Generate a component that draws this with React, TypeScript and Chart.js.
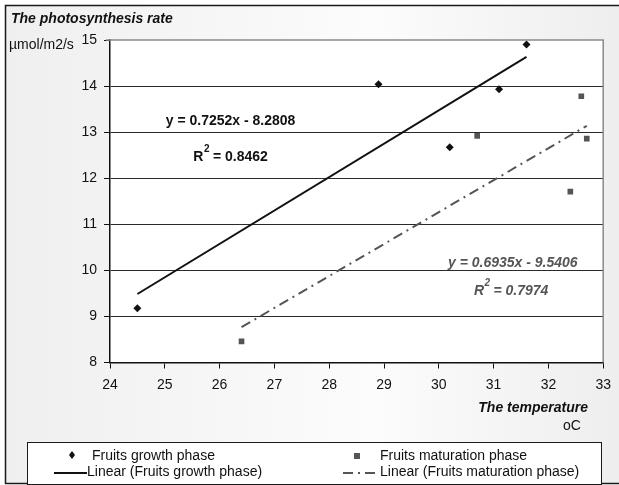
import React, { useEffect, useRef } from 'react';
import { Chart, registerables } from 'chart.js';

Chart.register(...registerables);

// ---- data ----
const growthTemp = [24.5, 28.9, 30.2, 31.1, 31.6];
const growthRate = [9.18, 14.04, 12.67, 13.93, 14.9];
const maturationTemp = [26.4, 30.7, 32.4, 32.6, 32.7];
const maturationRate = [8.46, 12.92, 11.71, 13.78, 12.86];

const growthSlope = 0.7252;
const growthIntercept = -8.2808;
const growthR2 = '0.8462';
const maturationSlope = 0.6935;
const maturationIntercept = -9.5406;
const maturationR2 = '0.7974';

const xMin = 24;
const xMax = 33;
const yMin = 8;
const yMax = 15;

const seriesNames = ['Fruits growth phase', 'Fruits maturation phase'];
const yTitle = 'The photosynthesis rate';
const yUnit = 'µmol/m2/s';
const xTitle = 'The temperature';
const xUnit = 'oC';

// annotation anchors (data coords)
const eq1At = { x: 26.2, y: 13.24 };
const r21At = { x: 26.2, y: 12.45 };
const eq2At = { x: 31.35, y: 10.15 };
const r22At = { x: 31.32, y: 9.55 };

const F = '"Liberation Sans", Arial, sans-serif';
const GRAY = '#555555';

function trend(xs: number[], m: number, b: number) {
  const lo = Math.min(...xs);
  const hi = Math.max(...xs);
  return [lo, hi].map((x) => ({ x, y: m * x + b }));
}

function eqText(m: number, b: number) {
  return `y = ${m.toFixed(4)}x ${b < 0 ? '-' : '+'} ${Math.abs(b).toFixed(4)}`;
}

function drawR2(ctx: CanvasRenderingContext2D, cx: number, cy: number, val: string, font: string, supFont: string, color: string) {
  ctx.font = font;
  const wR = ctx.measureText('R').width;
  const rest = ' = ' + val;
  const wRest = ctx.measureText(rest).width;
  ctx.font = supFont;
  const w2 = ctx.measureText('2').width;
  const total = wR + w2 + wRest;
  let x = cx - total / 2;
  ctx.fillStyle = color;
  ctx.textAlign = 'left';
  ctx.textBaseline = 'middle';
  ctx.font = font;
  ctx.fillText('R', x, cy);
  x += wR;
  ctx.font = supFont;
  ctx.fillText('2', x + 0.5, cy - 8);
  x += w2;
  ctx.font = font;
  ctx.fillText(rest, x, cy);
}

const deco = {
  id: 'deco',
  beforeDraw(chart: any) {
    const { ctx, chartArea: a, width, height } = chart;
    ctx.save();
    ctx.fillStyle = '#ffffff';
    ctx.fillRect(0, 0, width, height);
    const g = ctx.createLinearGradient(5, 0, width, 0);
    g.addColorStop(0, '#efefef');
    g.addColorStop(0.6, '#fcfcfc');
    g.addColorStop(1, '#eeeeee');
    ctx.fillStyle = g;
    ctx.fillRect(5, 5, width - 5, height - 7);
    ctx.fillStyle = '#ffffff';
    ctx.fillRect(a.left, a.top, a.right - a.left, a.bottom - a.top);
    ctx.restore();
  },
  afterDraw(chart: any) {
    const { ctx, chartArea: a, width, scales } = chart;
    const sx = scales.x;
    const sy = scales.y;
    ctx.save();
    // plot top/right border
    ctx.strokeStyle = '#8a8a8a';
    ctx.lineWidth = 1.5;
    ctx.beginPath();
    ctx.moveTo(a.left - 4, a.top);
    ctx.lineTo(a.right, a.top);
    ctx.lineTo(a.right, a.bottom);
    ctx.stroke();
    // outer border
    ctx.strokeStyle = '#1a1a1a';
    ctx.lineWidth = 1.5;
    ctx.beginPath();
    ctx.moveTo(width, 5.5);
    ctx.lineTo(5.5, 5.5);
    ctx.lineTo(5.5, 483.5);
    ctx.lineTo(width, 483.5);
    ctx.stroke();

    // titles
    ctx.fillStyle = '#111';
    ctx.textBaseline = 'middle';
    ctx.textAlign = 'left';
    ctx.font = `italic bold 14px ${F}`;
    ctx.fillText(yTitle, 11, 19);
    ctx.font = `14px ${F}`;
    ctx.fillText(yUnit, 9, 45);
    ctx.textAlign = 'right';
    ctx.font = `italic bold 14px ${F}`;
    ctx.fillText(xTitle, 588, 408);
    ctx.textAlign = 'center';
    ctx.font = `14px ${F}`;
    ctx.fillText(xUnit, 572, 426);

    // equations
    ctx.font = `bold 14px ${F}`;
    ctx.fillStyle = '#111';
    ctx.textAlign = 'center';
    ctx.fillText(eqText(growthSlope, growthIntercept), sx.getPixelForValue(eq1At.x), sy.getPixelForValue(eq1At.y));
    drawR2(ctx, sx.getPixelForValue(r21At.x), sy.getPixelForValue(r21At.y), growthR2, `bold 14px ${F}`, `bold 10px ${F}`, '#111');
    ctx.font = `italic bold 14px ${F}`;
    ctx.fillStyle = GRAY;
    ctx.textAlign = 'center';
    ctx.fillText(eqText(maturationSlope, maturationIntercept), sx.getPixelForValue(eq2At.x), sy.getPixelForValue(eq2At.y));
    drawR2(ctx, sx.getPixelForValue(r22At.x), sy.getPixelForValue(r22At.y), maturationR2, `italic bold 14px ${F}`, `italic bold 10px ${F}`, GRAY);

    // legend box
    ctx.fillStyle = '#ffffff';
    ctx.fillRect(27, 442, 574, 42);
    ctx.strokeStyle = '#1a1a1a';
    ctx.lineWidth = 1;
    ctx.strokeRect(27.5, 442.5, 574, 42);
    ctx.font = `14px ${F}`;
    ctx.textAlign = 'left';
    ctx.textBaseline = 'middle';
    ctx.fillStyle = '#111';
    // diamond
    ctx.beginPath();
    ctx.moveTo(72, 451);
    ctx.lineTo(75, 455);
    ctx.lineTo(72, 459);
    ctx.lineTo(69, 455);
    ctx.closePath();
    ctx.fill();
    ctx.fillText(seriesNames[0], 92, 456);
    ctx.strokeStyle = '#111';
    ctx.lineWidth = 2;
    ctx.beginPath();
    ctx.moveTo(54, 473);
    ctx.lineTo(87, 473);
    ctx.stroke();
    ctx.fillText(`Linear (${seriesNames[0]})`, 87, 472);
    // square
    ctx.fillStyle = GRAY;
    ctx.fillRect(354, 453, 6, 6);
    ctx.fillStyle = '#111';
    ctx.fillText(seriesNames[1], 380, 456);
    ctx.strokeStyle = GRAY;
    ctx.setLineDash([10, 5, 2, 5]);
    ctx.beginPath();
    ctx.moveTo(343, 473);
    ctx.lineTo(380, 473);
    ctx.stroke();
    ctx.setLineDash([]);
    ctx.fillText(`Linear (${seriesNames[1]})`, 380, 472);
    ctx.restore();
  },
};

export default function App() {
  const ref = useRef<HTMLCanvasElement>(null);
  useEffect(() => {
    document.body.style.margin = '0';
    const canvas = ref.current!;
    const chart = new Chart(canvas, {
      type: 'scatter',
      data: {
        datasets: [
          {
            label: seriesNames[0],
            data: growthTemp.map((x, i) => ({ x, y: growthRate[i] })),
            pointStyle: 'rectRot',
            pointRadius: 4,
            backgroundColor: '#111',
            borderColor: '#111',
            borderWidth: 0,
            order: 1,
          },
          {
            label: seriesNames[1],
            data: maturationTemp.map((x, i) => ({ x, y: maturationRate[i] })),
            pointStyle: 'rect',
            pointRadius: 4,
            backgroundColor: GRAY,
            borderColor: GRAY,
            borderWidth: 0,
            order: 1,
          },
          {
            label: `Linear (${seriesNames[0]})`,
            data: trend(growthTemp, growthSlope, growthIntercept),
            showLine: true,
            pointRadius: 0,
            borderColor: '#111',
            borderWidth: 2,
            order: 2,
          },
          {
            label: `Linear (${seriesNames[1]})`,
            data: trend(maturationTemp, maturationSlope, maturationIntercept),
            showLine: true,
            pointRadius: 0,
            borderColor: GRAY,
            borderWidth: 2,
            borderDash: [10, 5, 2, 5],
            order: 2,
          },
        ],
      },
      options: {
        responsive: false,
        animation: false,
        devicePixelRatio: 1,
        layout: { padding: { left: 0, top: 40, right: 8, bottom: 0 } },
        plugins: { legend: { display: false }, title: { display: false }, tooltip: { enabled: false } },
        scales: {
          x: {
            type: 'linear',
            min: xMin,
            max: xMax,
            afterFit: (s: any) => { s.height = 122.5; },
            ticks: { stepSize: 1, color: '#111', font: { family: F, size: 14 }, padding: 8, maxRotation: 0 },
            grid: { drawOnChartArea: false, drawTicks: true, tickLength: 6, tickColor: '#111' },
            border: { display: true, color: '#111', width: 1.5 },
          },
          y: {
            type: 'linear',
            min: yMin,
            max: yMax,
            afterFit: (s: any) => { s.width = 110; },
            ticks: { stepSize: 1, color: '#111', font: { family: F, size: 14 }, padding: 7 },
            grid: {
              color: (c: any) => (c.tick && c.tick.value === yMax ? 'rgba(0,0,0,0)' : '#2a2a2a'),
              lineWidth: 1,
              drawTicks: true,
              tickLength: 6,
              tickColor: '#111',
            },
            border: { display: true, color: '#111', width: 1.5 },
          },
        },
      },
      plugins: [deco],
    });
    return () => chart.destroy();
  }, []);
  return (
    <div style={{ position: 'absolute', left: 0, top: 0, width: 619, height: 485 }}>
      <canvas ref={ref} width={619} height={485} style={{ display: 'block', width: 619, height: 485 }} />
    </div>
  );
}
